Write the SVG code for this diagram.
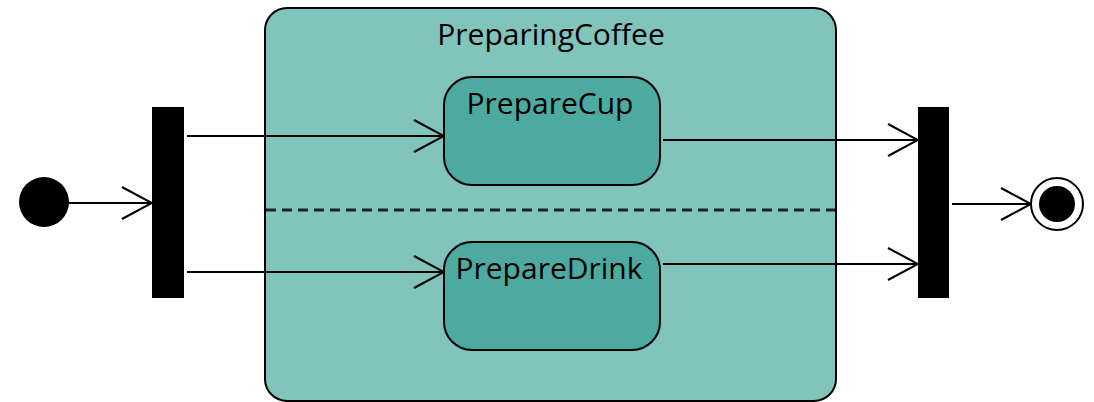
<svg xmlns="http://www.w3.org/2000/svg" width="1094" height="402" viewBox="0 0 1094 402">
<style>
text{font-family:"Open Sans","Noto Sans","DejaVu Sans",sans-serif;font-size:30px;fill:#000;text-anchor:middle}
.state{fill:#4DAAA0;stroke:#000;stroke-width:2}
.bar{fill:#000}
.conn{stroke:#000;stroke-width:2;fill:none}
</style>
<defs>
<marker id="open" viewBox="0 0 32 34" refX="31" refY="17" markerWidth="32" markerHeight="34" markerUnits="userSpaceOnUse" orient="auto">
<path d="M1,1 L31,17 L1,33" fill="none" stroke="#000" stroke-width="2"/>
</marker>
</defs>
<g id="PreparingCoffee">
<rect x="265" y="8" width="571" height="393" rx="22" fill="#80C4BB" stroke="#000" stroke-width="2"/>
<text x="551" y="45">PreparingCoffee</text>
<line x1="266" y1="210" x2="835" y2="210" stroke="#222" stroke-width="3" stroke-dasharray="10,6"/>
</g>
<g id="initial"><circle cx="44" cy="202" r="25" fill="#000"/></g>
<g id="fork"><rect class="bar" x="152" y="107" width="32" height="191"/></g>
<g id="PrepareCup"><rect class="state" x="444" y="77" width="216" height="108" rx="28"/><text x="550" y="114">PrepareCup</text></g>
<g id="PrepareDrink"><rect class="state" x="444" y="242" width="216" height="108" rx="28"/><text x="549" y="279">PrepareDrink</text></g>
<g id="join"><rect class="bar" x="918" y="107" width="31" height="191"/></g>
<g id="final"><circle cx="1057" cy="204" r="26" fill="#fff" stroke="#000" stroke-width="2"/><circle cx="1057" cy="204" r="18" fill="#000"/></g>
<g id="connectors">
<line class="conn" x1="69" y1="203" x2="152" y2="203" marker-end="url(#open)"/>
<line class="conn" x1="187" y1="136" x2="444" y2="136" marker-end="url(#open)"/>
<line class="conn" x1="187" y1="272" x2="444" y2="272" marker-end="url(#open)"/>
<line class="conn" x1="663" y1="140" x2="918" y2="140" marker-end="url(#open)"/>
<line class="conn" x1="663" y1="264" x2="918" y2="264" marker-end="url(#open)"/>
<line class="conn" x1="952" y1="204" x2="1031" y2="204" marker-end="url(#open)"/>
</g>
</svg>
